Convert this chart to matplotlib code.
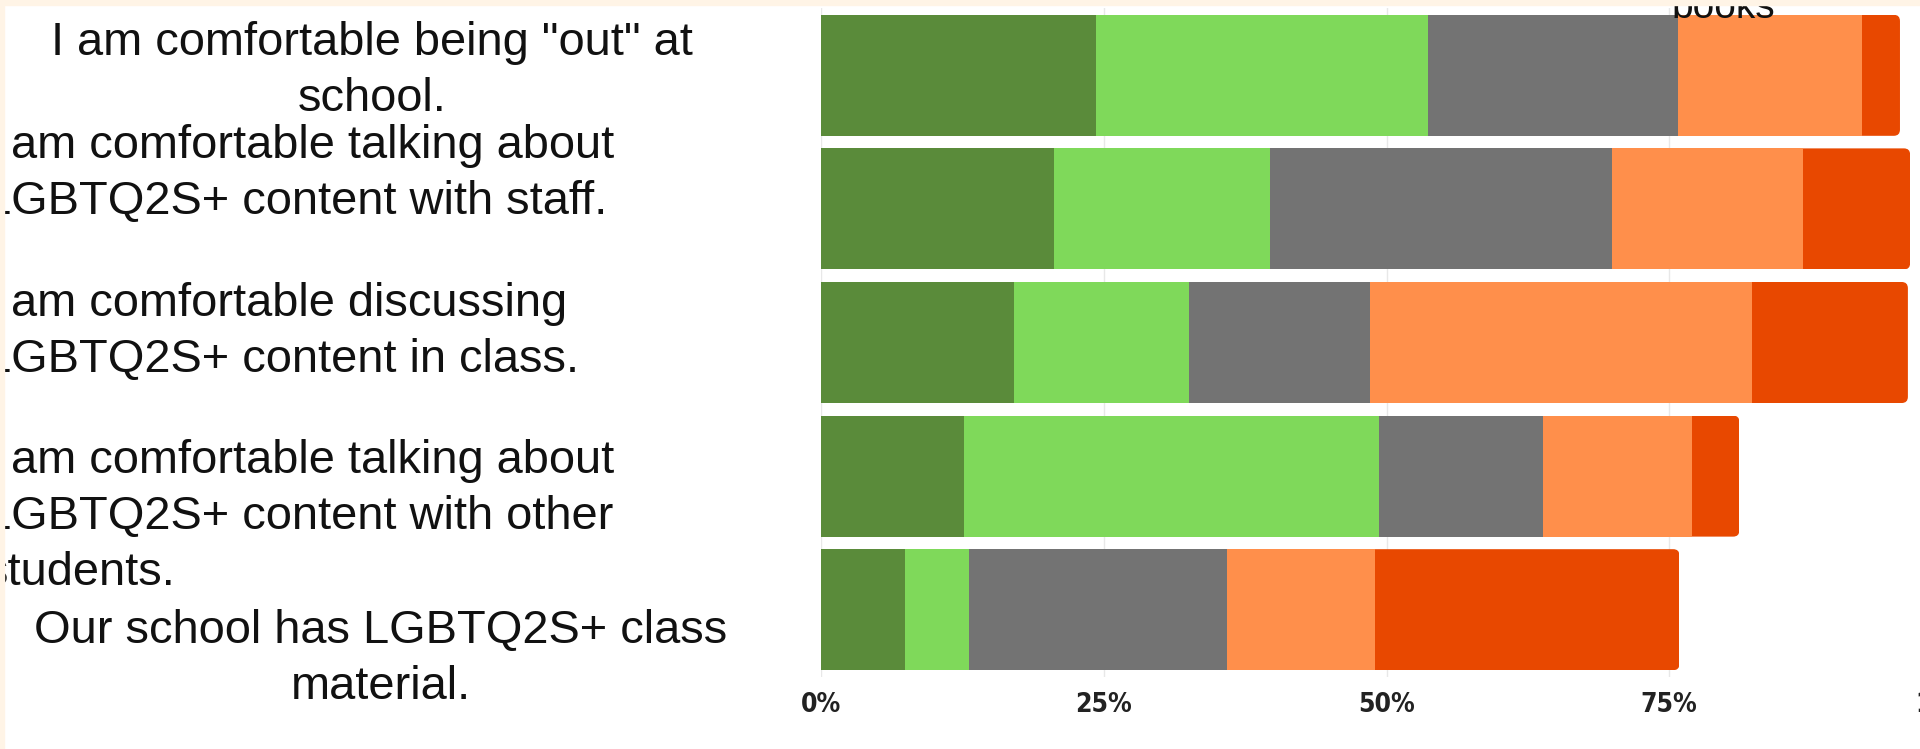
import matplotlib
matplotlib.use("Agg")
import matplotlib.pyplot as plt
from matplotlib.patches import FancyBboxPatch, Rectangle

# survey rows, top to bottom
CATEGORIES = [
    'I am comfortable being "out" at\nschool.',
    "I am comfortable talking about\nLGBTQ2S+ content with staff.",
    "I am comfortable discussing\nLGBTQ2S+ content in class.",
    "I am comfortable talking about\nLGBTQ2S+ content with other\nstudents.",
    "Our school has LGBTQ2S+ class\nmaterial.",
]
SERIES = ["Strongly agree", "Agree", "Neutral", "Disagree", "Strongly disagree"]
STRONGLY_AGREE = [24.3, 20.6, 17.1, 12.6, 7.4]
AGREE = [29.4, 19.1, 15.4, 36.7, 5.7]
NEUTRAL = [22.1, 30.2, 16.0, 14.5, 22.8]
DISAGREE = [16.2, 16.9, 33.8, 13.2, 13.1]
STRONGLY_DISAGREE = [3.4, 9.5, 13.8, 4.2, 26.9]
X_TICKS = [0, 25, 50, 75, 100]
X_TICK_LABELS = ["0%", "25%", "50%", "75%", "100%"]
CUT_TITLE = "books"

COLORS = ["#5A8B3A", "#7FD95A", "#737373", "#FF8F4B", "#E84800"]
CREAM = "#FFF4E6"
W, H = 1920, 749

# label placement: (x px, first baseline px, alignment)
LABEL_POS = [(372, 55, "center"), (-15, 158, "left"), (-15, 316, "left"),
             (-15, 473, "left"), (381, 643, "center")]
LINE_STEP = 56

fig = plt.figure(figsize=(W / 100, H / 100), dpi=100)
fig.patch.set_facecolor("white")
ax = fig.add_axes([821 / W, (H - 676.5) / H, 1131 / W, 668 / H])
ax.set_xlim(0, 100)
ax.set_ylim(len(CATEGORIES) - 0.5, -0.5)

bar_h = 0.906
ypos = list(range(len(CATEGORIES)))
left = [0.0] * len(CATEGORIES)
series_vals = [STRONGLY_AGREE, AGREE, NEUTRAL, DISAGREE, STRONGLY_DISAGREE]
last = None
for name, vals, col in zip(SERIES, series_vals, COLORS):
    last = ax.barh(ypos, vals, left=left, height=bar_h, color=col, label=name, zorder=2)
    left = [a + b for a, b in zip(left, vals)]

# round the right end of every bar
for y, total, patch in zip(ypos, left, last.patches):
    clip = FancyBboxPatch((-10, y - bar_h / 2), total + 10, bar_h,
                          boxstyle="round,pad=0,rounding_size=0.55",
                          mutation_aspect=0.085, transform=ax.transData)
    patch.set_clip_path(clip)

ax.set_xticks(X_TICKS, X_TICK_LABELS)
ax.set_yticks([])
ax.tick_params(axis="x", length=0, pad=11, labelsize=19, labelcolor="#222222")
for lbl in ax.get_xticklabels():
    lbl.set_family("DejaVu Sans")
    lbl.set_fontweight("bold")
    lbl.set_fontstretch("condensed")
ax.set_axisbelow(True)
ax.xaxis.grid(True, color="#e8e8e8", lw=1)
for s in ax.spines.values():
    s.set_visible(False)

for text, (x, y0, ha) in zip(CATEGORIES, LABEL_POS):
    for k, line in enumerate(text.split("\n")):
        fig.text(x / W, 1 - (y0 + k * LINE_STEP) / H, line, ha=ha, va="baseline",
                 fontsize=33.8, family="Liberation Sans", color="#111111")

fig.text(1723 / W, 1 - 18 / H, CUT_TITLE, ha="center", va="baseline",
         fontsize=28, family="Liberation Sans", color="#111111", zorder=5)

# cream frame along top and left edge
fig.add_artist(Rectangle((0, 1 - 5 / H), 1, 5 / H, transform=fig.transFigure,
                         color=CREAM, zorder=10))
fig.add_artist(Rectangle((0, 0), 4 / W, 1, transform=fig.transFigure,
                         color=CREAM, zorder=10))

fig.savefig("out.png", dpi=100)
